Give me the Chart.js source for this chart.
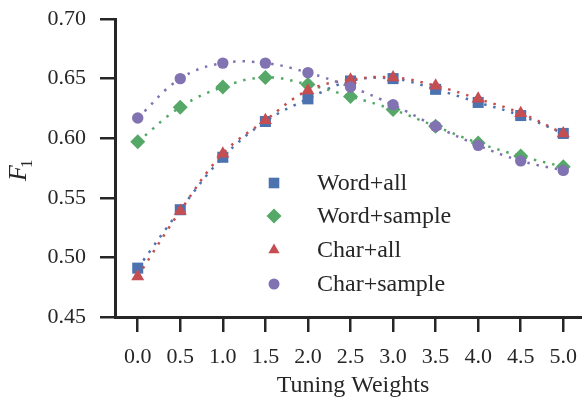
<!DOCTYPE html>
<html lang="en">
<head>
<meta charset="UTF-8">
<title>F1 vs Tuning Weights</title>
<script src="https://cdn.jsdelivr.net/npm/chart.js"></script>
<style>
  body { margin: 0; padding: 0; background: #fff; }
  #chart { display: block; }
</style>
</head>
<body>
<canvas id="chart" width="582" height="402"></canvas>
<script>
// values
const weights = [0.0, 0.5, 1.0, 1.5, 2.0, 2.5, 3.0, 3.5, 4.0, 4.5, 5.0];
const wordAll    = [0.491, 0.540, 0.584, 0.614, 0.633, 0.648, 0.650, 0.641, 0.630, 0.619, 0.604];
const wordSample = [0.597, 0.626, 0.643, 0.651, 0.645, 0.635, 0.624, 0.610, 0.596, 0.585, 0.576];
const charAll    = [0.484, 0.539, 0.587, 0.615, 0.640, 0.649, 0.651, 0.644, 0.633, 0.621, 0.604];
const charSample = [0.617, 0.650, 0.663, 0.663, 0.655, 0.643, 0.628, 0.610, 0.594, 0.581, 0.573];

const seriesNames = ['Word+all', 'Word+sample', 'Char+all', 'Char+sample'];
const xTicks = [0.0, 0.5, 1.0, 1.5, 2.0, 2.5, 3.0, 3.5, 4.0, 4.5, 5.0];
const yTicks = [0.45, 0.50, 0.55, 0.60, 0.65, 0.70];

const colors = ['#4C72B0', '#55A868', '#C44E52', '#8172B2'];
const styles = ['rect', 'rectRot', 'triangle', 'circle'];
const radii = [7.8, 7.5, 7.5, 5.7];
const legendRadii = [7.5, 7.5, 6.5, 5.5];
const inkColor = '#262626';
const serif = "'Liberation Serif', 'DejaVu Serif', serif";

function makeSet(i, values) {
    return {
        label: seriesNames[i],
        data: weights.map((w, k) => ({ x: w, y: values[k] })),
        borderColor: colors[i],
        backgroundColor: colors[i],
        borderWidth: 2.5,
        borderDash: [2.5, 7],
        borderCapStyle: 'butt',
        tension: 0.4,
        fill: false,
        pointStyle: styles[i],
        pointRadius: radii[i],
        pointBorderWidth: 0,
        pointBackgroundColor: colors[i],
        order: 4 - i
    };
}

// legend inside the plot, like the original
const legendPlugin = {
    id: 'innerLegend',
    afterDraw(chart) {
        const ctx = chart.ctx;
        const rows = [183, 216, 250, 284];
        ctx.save();
        seriesNames.forEach((name, i) => {
            ctx.fillStyle = colors[i];
            ctx.strokeStyle = colors[i];
            Chart.helpers.drawPoint(ctx, { pointStyle: styles[i], radius: legendRadii[i], rotation: 0, borderWidth: 0 }, 274, rows[i]);
            ctx.fillStyle = inkColor;
            ctx.font = '24px ' + serif;
            ctx.textBaseline = 'middle';
            ctx.textAlign = 'left';
            ctx.fillText(name, 317, rows[i] + 1);
        });
        ctx.restore();
    }
};

// axis titles (F with subscript 1 needs hand drawing)
const titlePlugin = {
    id: 'axisTitles',
    afterDraw(chart) {
        const ctx = chart.ctx;
        ctx.save();
        ctx.fillStyle = inkColor;
        ctx.font = '24px ' + serif;
        ctx.textAlign = 'center';
        ctx.textBaseline = 'middle';
        ctx.fillText('Tuning Weights', 353, 386);

        ctx.translate(26, 181);
        ctx.rotate(-Math.PI / 2);
        ctx.textAlign = 'left';
        ctx.textBaseline = 'alphabetic';
        ctx.font = 'italic 26px ' + serif;
        ctx.fillText('F', 0, 0);
        const fw = ctx.measureText('F').width;
        ctx.font = '17px ' + serif;
        ctx.fillText('1', fw - 3, 6);
        ctx.restore();
    }
};

new Chart(document.getElementById('chart'), {
    type: 'line',
    data: {
        datasets: [
            makeSet(0, wordAll),
            makeSet(1, wordSample),
            makeSet(2, charAll),
            makeSet(3, charSample)
        ]
    },
    options: {
        responsive: false,
        animation: false,
        layout: { autoPadding: false, padding: { top: 19, right: 0, bottom: 0, left: 0 } },
        plugins: { legend: { display: false }, tooltip: { enabled: false } },
        scales: {
            x: {
                type: 'linear',
                min: -0.267,
                max: 5.22,
                afterBuildTicks: s => { s.ticks = xTicks.map(v => ({ value: v })); },
                afterFit: s => { s.height = 85; s.paddingLeft = 0; s.paddingRight = 0; },
                grid: { drawOnChartArea: false, drawTicks: true, tickLength: 15, color: inkColor, lineWidth: 2.5 },
                border: { display: true, color: inkColor, width: 3 },
                ticks: {
                    color: inkColor,
                    font: { family: serif, size: 22, lineHeight: 2.27 },
                    padding: 0,
                    maxRotation: 0, autoSkip: false,
                    callback: v => Number(v).toFixed(1)
                }
            },
            y: {
                min: 0.45,
                max: 0.70,
                afterBuildTicks: s => { s.ticks = yTicks.map(v => ({ value: v })); },
                afterFit: s => { s.width = 115; s.paddingTop = 0; s.paddingBottom = 0; },
                grid: { drawOnChartArea: false, drawTicks: true, tickLength: 15, color: inkColor, lineWidth: 2.5 },
                border: { display: true, color: inkColor, width: 3 },
                ticks: {
                    color: inkColor,
                    font: { family: serif, size: 22 },
                    padding: 14,
                    callback: v => Number(v).toFixed(2)
                }
            }
        }
    },
    plugins: [legendPlugin, titlePlugin]
});
</script>
</body>
</html>
